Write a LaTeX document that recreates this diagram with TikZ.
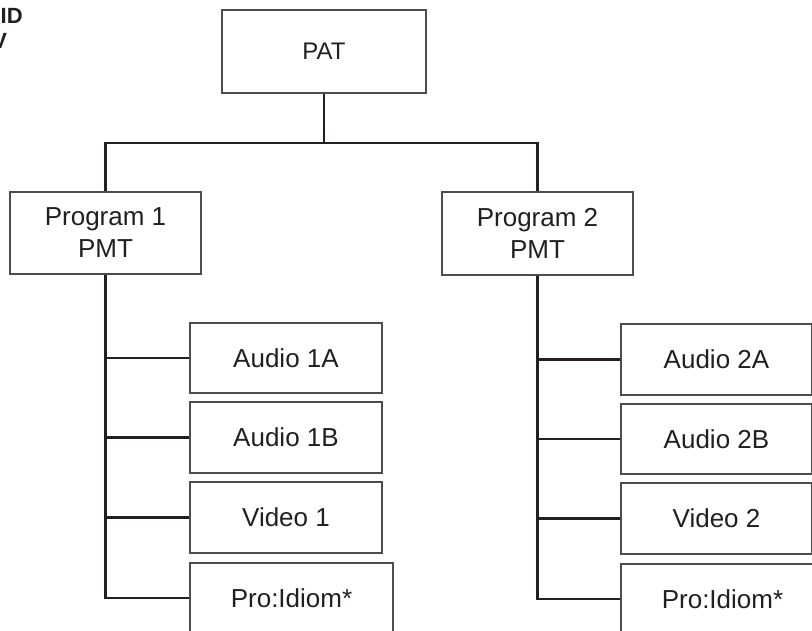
\documentclass[tikz,border=0pt]{standalone}
\usepackage{fontspec}
\setmainfont{Liberation Sans}
\definecolor{ink}{HTML}{231F20}
\definecolor{boxline}{HTML}{4D4D4F}
\begin{document}
\begin{tikzpicture}[x=1pt,y=-1pt,
  box/.style={draw=boxline, line width=1.3pt, rectangle, inner sep=0pt,
    text=ink, align=center, font=\fontsize{26}{32}\selectfont},
  conn/.style={draw=ink, line width=2.6pt, line join=miter}]
\useasboundingbox (0,0) rectangle (812,631);
\fill[white] (0,0) rectangle (812,631);

% cropped caption fragments at the top left
\node[anchor=base west, inner sep=0pt, text=ink, font=\fontsize{22}{26}\selectfont\bfseries] (cap1) at (0.5,24) {ID};
\node[anchor=base west, inner sep=0pt, text=ink, font=\fontsize{22}{26}\selectfont\bfseries] (cap2) at (-7.8,49) {V};

% boxes
\node[box, minimum width=204pt, minimum height=83pt, font=\fontsize{24}{30}\selectfont] (PAT) at (324,51.5) {PAT};
\node[box, minimum width=191pt, minimum height=82pt] (P1) at (105.5,233) {Program 1\\PMT};
\node[box, minimum width=191pt, minimum height=83pt] (P2) at (537.5,233.5) {Program 2\\PMT};

\node[box, minimum width=192pt, minimum height=70pt] (A1A) at (286,358) {Audio 1A};
\node[box, minimum width=192pt, minimum height=71pt] (A1B) at (286,437.5) {Audio 1B};
\node[box, minimum width=192pt, minimum height=71pt] (V1) at (286,517.5) {Video 1};
\node[box, minimum width=203pt, minimum height=70pt] (PI1) at (291.5,598) {Pro:Idiom*};

\node[box, minimum width=191pt, minimum height=71pt] (A2A) at (716.5,359.5) {Audio 2A};
\node[box, minimum width=191pt, minimum height=70pt] (A2B) at (716.5,439) {Audio 2B};
\node[box, minimum width=191pt, minimum height=71pt] (V2) at (716.5,518.5) {Video 2};
\node[box, minimum width=203pt, minimum height=70pt] (PI2) at (722.5,599) {Pro:Idiom*};

% top tree
\coordinate (hb) at (324,143);
\draw[conn] (PAT.south) -- (PAT.south |- hb);
\draw[conn] (P1.north) -- (P1.north |- hb) -- (P2.north |- hb) -- (P2.north);

% left trunk
\draw[conn] (P1.south) -- (P1.south |- PI1.west) -- (PI1.west);
\draw[conn] (P1.south |- A1A.west) -- (A1A.west);
\draw[conn] (P1.south |- A1B.west) -- (A1B.west);
\draw[conn] (P1.south |- V1.west) -- (V1.west);

% right trunk
\draw[conn] (P2.south) -- (P2.south |- PI2.west) -- (PI2.west);
\draw[conn] (P2.south |- A2A.west) -- (A2A.west);
\draw[conn] (P2.south |- A2B.west) -- (A2B.west);
\draw[conn] (P2.south |- V2.west) -- (V2.west);
\end{tikzpicture}
\end{document}
